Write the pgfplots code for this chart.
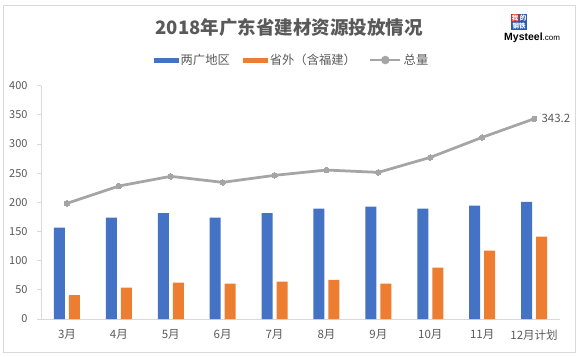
\documentclass[border=0pt]{standalone}
\usepackage{pgfplots}
\pgfplotsset{compat=1.18}
\usepackage{fontspec}
\setmainfont{Noto Sans CJK SC}
\newfontfamily\arial{Liberation Sans}
\definecolor{cblue}{HTML}{4472C4}
\definecolor{corange}{HTML}{ED7D31}
\definecolor{cgray}{HTML}{A5A5A5}
\definecolor{ctext}{HTML}{595959}
\definecolor{caxis}{HTML}{D9D9D9}
\definecolor{logored}{HTML}{E0261E}
\definecolor{logoblue}{HTML}{2A5CAA}
\begin{document}
\begin{tikzpicture}
\begin{axis}[
  scale only axis, width=519pt, height=233.3pt,
  xmin=-0.5, xmax=9.5, ymin=0, ymax=400,
  axis x line*=bottom, axis y line*=left,
  axis line style={caxis, line width=0.8pt, -},
  xtick={0,...,9},
  xticklabels={3月,4月,5月,6月,7月,8月,9月,10月,11月,12月计划},
  ytick={0,50,...,400},
  x tick style={draw=none},
  y tick style={caxis, line width=0.8pt},
  tick align=outside, major tick length=4pt,
  /pgf/number format/assume math mode=true,
  tick label style={text=ctext, font=\fontsize{11}{13}\selectfont},
  xticklabel style={yshift=-3pt, font=\fontsize{11.5}{13}\selectfont},
  yticklabel style={xshift=-6pt},
  legend columns=3,
  legend style={at={(0.4836,1.110)}, anchor=center, draw=none, fill=none,
    font=\fontsize{12.3}{14}\selectfont, text=ctext,
    /tikz/every even column/.append style={column sep=11pt},
    nodes={inner sep=2pt}},
  clip=false,
]
\addplot[ybar, bar width=11pt, bar shift=-7.5pt, fill=cblue, draw=none,
  legend image code/.code={\fill[cblue] (0pt,-2.5pt) rectangle (25pt,2.5pt);}]
  coordinates {(0,156.6) (1,173.7) (2,181.7) (3,173.7) (4,181.7) (5,189.1) (6,192.6) (7,189.1) (8,194.3) (9,201.0)};
\addlegendentry{两广地区}
\addplot[ybar, bar width=11pt, bar shift=7.5pt, fill=corange, draw=none,
  legend image code/.code={\fill[corange] (0pt,-2.5pt) rectangle (25pt,2.5pt);}]
  coordinates {(0,41.1) (1,53.7) (2,62.3) (3,60.6) (4,64.0) (5,66.9) (6,60.6) (7,88.0) (8,117.1) (9,141.1)};
\addlegendentry{省外（含福建）}
\addplot[cgray, line width=2.75pt, mark=*, mark size=2.8pt, mark options={fill=cgray, draw=cgray, line width=0pt},
  legend image code/.code={\draw[cgray, line width=2.75pt] (0pt,0pt)--(30pt,0pt); \fill[cgray] (15pt,0pt) circle (2.8pt);}]
  coordinates {(0,198.3) (1,228.0) (2,244.6) (3,234.3) (4,246.3) (5,255.4) (6,251.4) (7,277.1) (8,311.4) (9,343.2)};
\addlegendentry{总量}
\node[anchor=west, text=ctext, font=\fontsize{11.5}{13}\selectfont, xshift=4pt] at (axis cs:9,343.2) {343.2};
\coordinate (O) at (rel axis cs:0,0);
\end{axis}
\begin{scope}[x=1pt, y=1pt, shift={(O)}, shift={(-41pt,-37pt)}]
\pgfresetboundingbox
\path[use as bounding box] (0,0) rectangle (580,356);
\draw[caxis, line width=0.8pt] (3,4) rectangle (575,351);
\node[text=ctext, font=\fontsize{18.5}{21}\selectfont\bfseries] at (289,328) {2018年广东省建材资源投放情况};
\fill[logored] (511,334) rectangle (519,342);
\fill[logoblue] (519,334) rectangle (527,342);
\fill[logoblue] (511,326) rectangle (527,334);
\node[text=white, font=\fontsize{6.5}{7}\selectfont\bfseries, inner sep=0] at (515,338) {我};
\node[text=white, font=\fontsize{6.5}{7}\selectfont\bfseries, inner sep=0] at (523,338) {的};
\node[text=white, font=\fontsize{6.5}{7}\selectfont\bfseries, inner sep=0] at (519,330) {钢铁};
\node[anchor=west, inner sep=0, font=\arial] at (504,318) {{\fontsize{10.5}{12}\selectfont\bfseries Mysteel}{\fontsize{8}{10}\selectfont .com}};
\end{scope}
\end{tikzpicture}
\end{document}
